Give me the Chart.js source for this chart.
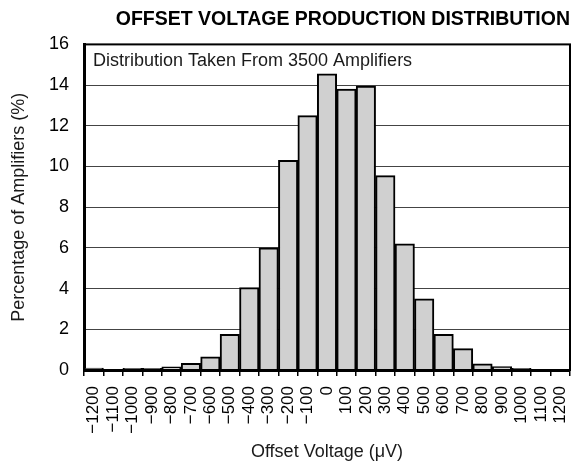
<!DOCTYPE html>
<html>
<head>
<meta charset="utf-8">
<script src="https://cdn.jsdelivr.net/npm/chart.js@4/dist/chart.umd.min.js"></script>
<style>
  html, body { margin: 0; padding: 0; background: #fff; }
  #wrap { width: 571px; height: 464px; }
</style>
</head>
<body>
<div id="wrap"><canvas id="chart" width="571" height="464"></canvas></div>
<script>
// bin centres (µV) and the share of amplifiers in each bin (%)
const binLabels = ['\u22121200', '\u22121100', '\u22121000', '\u2212900', '\u2212800', '\u2212700', '\u2212600',
    '\u2212500', '\u2212400', '\u2212300', '\u2212200', '\u2212100', '0', '100', '200', '300', '400',
    '500', '600', '700', '800', '900', '1000', '1100', '1200'];
const percentValues = [0.1, 0, 0.08, 0.08, 0.15, 0.33, 0.65, 1.75, 4.05, 6.0, 10.3, 12.5, 14.55,
    13.8, 13.95, 9.55, 6.2, 3.5, 1.75, 1.05, 0.3, 0.17, 0.08, 0, 0];
const yTicks = [0, 2, 4, 6, 8, 10, 12, 14, 16];

const FONT = '"Liberation Sans", Arial, Helvetica, sans-serif';

// frame round the plot plus the note in the top-left corner
const framePlugin = {
    id: 'frame',
    afterDraw(chart) {
        const { ctx, chartArea } = chart;
        ctx.save();
        ctx.strokeStyle = '#000';
        ctx.lineWidth = 2;
        ctx.strokeRect(chartArea.left, chartArea.top, chartArea.right - chartArea.left, chartArea.bottom - chartArea.top);
        ctx.fillStyle = '#1a1a1a';
        ctx.font = '18px ' + FONT;
        ctx.textBaseline = 'middle';
        ctx.fillText('Distribution Taken From 3500 Amplifiers', chartArea.left + 9, chartArea.top + 17);
        ctx.restore();
    }
};

new Chart(document.getElementById('chart').getContext('2d'), {
    type: 'bar',
    data: {
        labels: binLabels,
        datasets: [{
            data: percentValues,
            backgroundColor: '#d0d0d0',
            borderColor: '#000',
            borderWidth: 2,
            barPercentage: 1,
            categoryPercentage: 1
        }]
    },
    options: {
        responsive: false,
        animation: false,
        layout: { padding: { left: 0, right: 1, top: 0, bottom: 0 } },
        plugins: {
            legend: { display: false },
            tooltip: { enabled: false },
            title: {
                display: true,
                text: 'OFFSET VOLTAGE PRODUCTION DISTRIBUTION',
                align: 'end',
                color: '#000',
                font: { family: FONT, size: 19.5, weight: 'bold' },
                padding: { top: 8, bottom: 13 }
            }
        },
        scales: {
            x: {
                grid: { display: true, offset: true, drawOnChartArea: false, drawTicks: true, tickLength: 6, color: '#000', lineWidth: 1.5 },
                border: { color: '#000', width: 3 },
                ticks: {
                    color: '#000',
                    minRotation: 90,
                    maxRotation: 90,
                    autoSkip: false,
                    padding: 10,
                    font: { family: FONT, size: 17 }
                },
                title: {
                    display: true,
                    text: 'Offset Voltage (\u03bcV)',
                    color: '#1a1a1a',
                    font: { family: FONT, size: 18 },
                    padding: { top: 0, bottom: 1 }
                },
                afterFit(scale) {
                    scale.height = 94;
                    scale.paddingLeft = 0;
                    scale.paddingRight = 0;
                }
            },
            y: {
                min: 0,
                max: 16,
                afterBuildTicks(scale) { scale.ticks = yTicks.map(v => ({ value: v })); },
                grid: { color: '#444', lineWidth: 1, drawTicks: false },
                border: { color: '#000', width: 3 },
                ticks: {
                    color: '#000',
                    padding: 15,
                    font: { family: FONT, size: 18 }
                },
                title: {
                    display: true,
                    text: 'Percentage of Amplifiers (%)',
                    color: '#1a1a1a',
                    font: { family: FONT, size: 18 },
                    padding: { top: 8, bottom: 0 }
                },
                afterFit(scale) { scale.width = 84; }
            }
        }
    },
    plugins: [framePlugin]
});
</script>
</body>
</html>
